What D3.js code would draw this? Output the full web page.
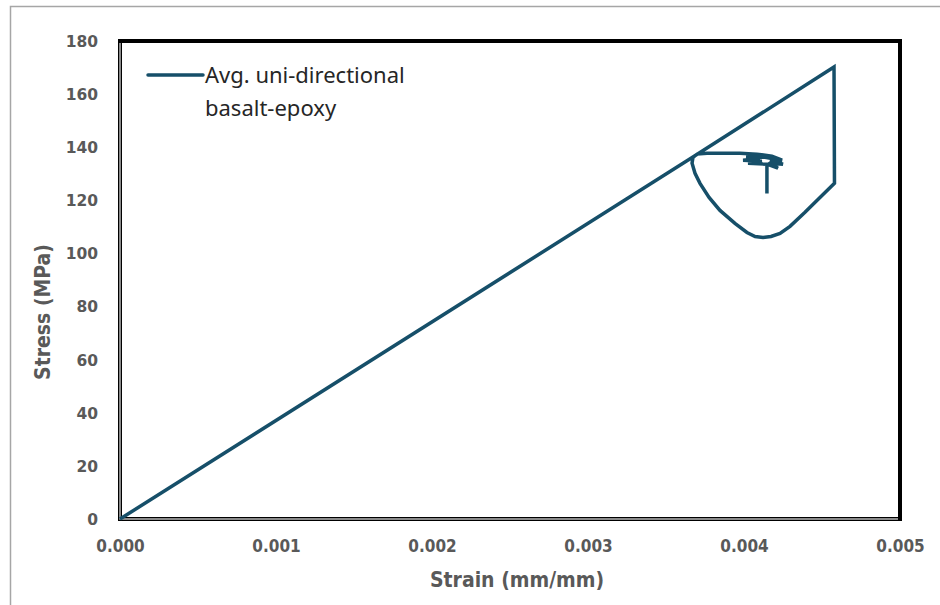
<!DOCTYPE html>
<html>
  <head>
    <meta charset="utf-8">
    <script src="https://d3js.org/d3.v7.min.js"></script>
    <style>
      body { margin: 0px; background: #fff; }
      .x-axis .tick text {
        fill: #595959;
        font-size: 17px;
        font-weight: bold;
        font-family: "DejaVu Sans Condensed", "DejaVu Sans", sans-serif;
      }
      .y-axis .tick text {
        fill: #595959;
        font-size: 15.5px;
        font-weight: bold;
        font-family: "DejaVu Sans", sans-serif;
      }
      .axis-label {
        fill: #595959;
        font-size: 21px;
        font-weight: bold;
        font-family: "DejaVu Sans Condensed", "DejaVu Sans", sans-serif;
      }
      .legend-label {
        fill: #262626;
        font-size: 22px;
        font-family: "Noto Sans", sans-serif;
      }
    </style>
  </head>
  <body>
    <svg width="940" height="605"></svg>
    <script>
      // averaged stress-strain curve
      const strain = [0, 0.00367, 0.004577, 0.00458,
        0.004487, 0.004391, 0.004295, 0.004231, 0.004173, 0.004122, 0.004071, 0.004019,
        0.003942, 0.003846, 0.003776, 0.003718, 0.003686, 0.003667, 0.003673, 0.003699,
        0.003763, 0.003974, 0.004083,
        0.004179, 0.004244, 0.004167, 0.004250, 0.004167, 0.004218, 0.004147, 0.004026,
        0.004115, 0.003994, 0.004103, 0.004013, 0.004135, 0.004205, 0.004147, 0.004147];
      const stress = [0, 136.2, 170.2, 126.4,
        121.1, 115.5, 110.2, 107.5, 106.4, 106.0, 106.4, 107.9,
        111.3, 116.2, 121.1, 126.4, 130.2, 134.0, 136.2, 137.4,
        137.7, 137.7, 137.4,
        136.6, 135.1, 135.1, 133.6, 134.0, 132.1, 133.6, 134.0,
        134.7, 135.1, 135.8, 136.2, 136.2, 135.5, 133.2, 122.6];
      const xTicks = [0, 0.001, 0.002, 0.003, 0.004, 0.005];
      const yTicks = [0, 20, 40, 60, 80, 100, 120, 140, 160, 180];
      const seriesName = ['Avg. uni-directional', 'basalt-epoxy'];

      const data = strain.map((s, i) => ({ x: s, y: stress[i] }));

      const svg = d3.select('svg');
      const margin = { left: 120, top: 41, right: 40, bottom: 86 };
      const innerWidth = 940 - margin.left - margin.right;
      const innerHeight = 605 - margin.top - margin.bottom;

      // outer chart frame
      svg.append('rect')
        .attr('x', 10.5).attr('y', 6.5)
        .attr('width', 960).attr('height', 700)
        .attr('fill', 'none')
        .attr('stroke', '#a6a6a6')
        .attr('stroke-width', 1.5);

      const g = svg.append('g')
        .attr('transform', `translate(${margin.left},${margin.top})`);

      const xScale = d3.scaleLinear().domain([0, 0.005]).range([0, innerWidth]);
      const yScale = d3.scaleLinear().domain([0, 180]).range([innerHeight, 0]);

      const xAxis = d3.axisBottom(xScale)
        .tickValues(xTicks)
        .tickFormat(d3.format('.3f'))
        .tickSize(0)
        .tickPadding(21);
      const yAxis = d3.axisLeft(yScale)
        .tickValues(yTicks)
        .tickSize(0)
        .tickPadding(22);

      const xAxisG = g.append('g')
        .attr('class', 'x-axis')
        .attr('transform', `translate(0,${innerHeight})`)
        .call(xAxis);
      const yAxisG = g.append('g').attr('class', 'y-axis').call(yAxis);
      xAxisG.select('.domain').remove();
      yAxisG.select('.domain').remove();
      yAxisG.selectAll('.tick text').attr('dy', '0.35em');

      // plot border
      g.append('rect')
        .attr('width', innerWidth).attr('height', innerHeight)
        .attr('fill', 'none')
        .attr('stroke', '#000')
        .attr('stroke-width', 4);
      g.append('path')
        .attr('d', `M0,2V${innerHeight}H${innerWidth - 2}`)
        .attr('fill', 'none')
        .attr('stroke', '#b8b8b8')
        .attr('stroke-width', 1.5);

      const line = d3.line()
        .x(d => xScale(d.x))
        .y(d => yScale(d.y));

      g.append('path')
        .datum(data)
        .attr('d', line)
        .attr('fill', 'none')
        .attr('stroke', '#164f69')
        .attr('stroke-width', 3.5)
        .attr('stroke-linejoin', 'miter')
        .attr('stroke-miterlimit', 4)
        .attr('stroke-linecap', 'butt');

      // legend
      const legendG = g.append('g').attr('transform', 'translate(28,34)');
      legendG.append('line')
        .attr('x1', 0).attr('x2', 55)
        .attr('stroke', '#164f69')
        .attr('stroke-width', 3.5)
        .attr('stroke-linecap', 'round');
      legendG.append('text')
        .attr('class', 'legend-label')
        .selectAll('tspan').data(seriesName)
        .enter().append('tspan')
          .attr('x', 57)
          .attr('y', (d, i) => 8 + i * 33)
          .text(d => d);

      // axis titles
      g.append('text')
        .attr('class', 'axis-label')
        .attr('x', innerWidth / 2 + 7)
        .attr('y', innerHeight + 68)
        .attr('text-anchor', 'middle')
        .text('Strain (mm/mm)');
      g.append('text')
        .attr('class', 'axis-label')
        .attr('transform', `translate(-70,${innerHeight / 2 + 32}) rotate(-90)`)
        .attr('text-anchor', 'middle')
        .text('Stress (MPa)');
    </script>
  </body>
</html>
